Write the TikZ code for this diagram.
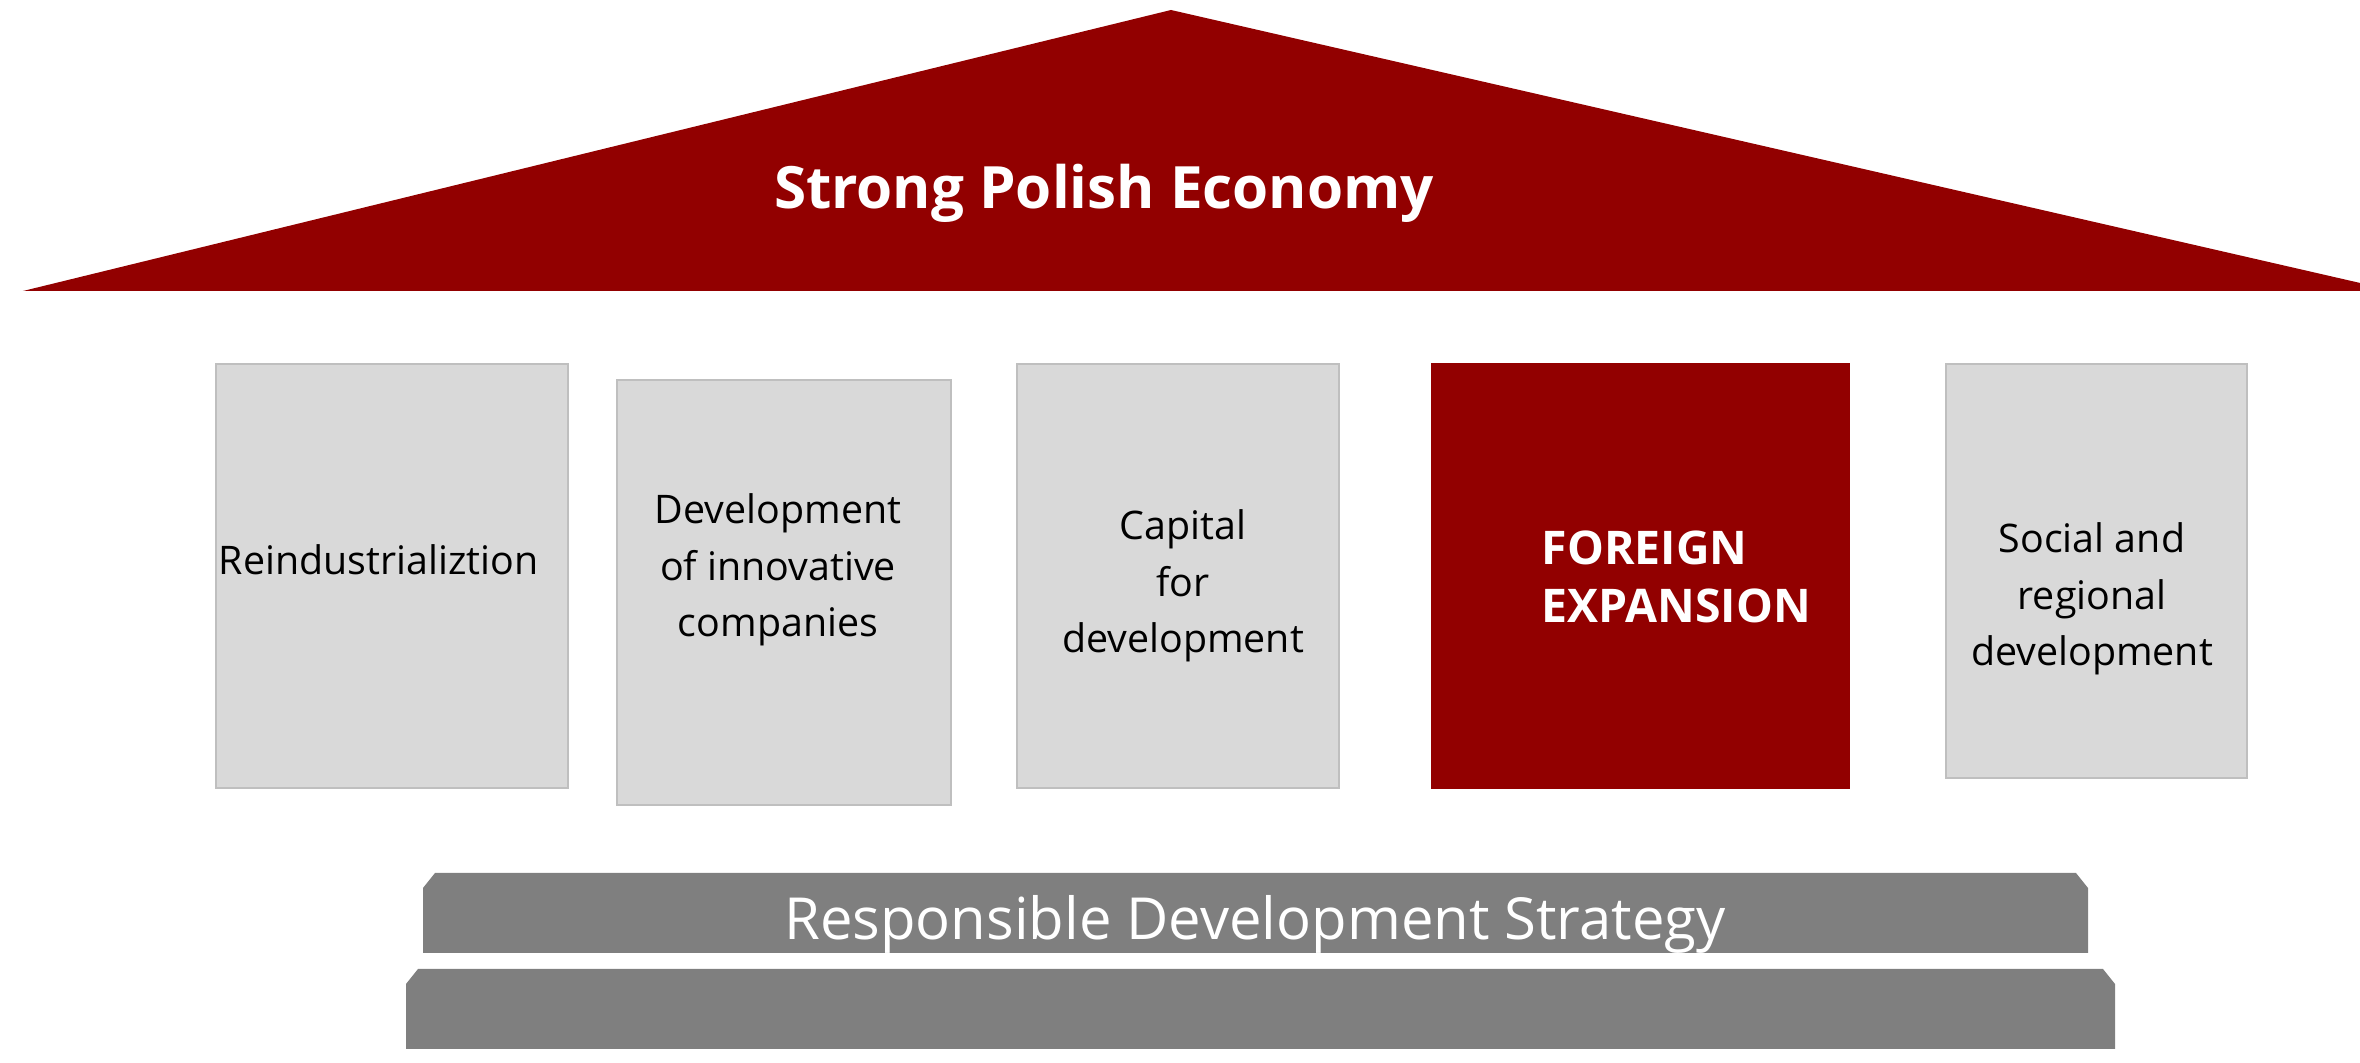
\documentclass[tikz,border=0pt]{standalone}
\usepackage{fontspec}
\setmainfont{Open Sans}
\definecolor{roofred}{HTML}{920000}
\definecolor{pillargray}{HTML}{D9D9D9}
\definecolor{pillarline}{HTML}{BFBFBF}
\definecolor{stepgray}{HTML}{7F7F7F}
\tikzset{
  pillar/.style={draw=pillarline, fill=pillargray, line width=0.6pt, inner sep=0pt, anchor=north west},
  pillartext/.style={align=center, inner sep=0pt, font=\fontsize{11.2}{16}\selectfont},
}

\begin{document}
\begin{tikzpicture}
  \useasboundingbox (0,0) rectangle (23.6,-10.63);

  \fill[roofred] (0.23,-2.91) -- (11.71,-0.10) -- (23.95,-2.91) -- cycle;
  \node[anchor=base, text=white, font=\bfseries\fontsize{16.6}{20}\selectfont] (title) at (11.04,-2.09) {Strong Polish Economy};

  \node[pillar, minimum width=3.52cm, minimum height=4.24cm] (reind) at (2.15,-3.63) {};
  \node[pillar, minimum width=3.34cm, minimum height=4.25cm] (innov) at (6.16,-3.79) {};
  \node[pillar, minimum width=3.22cm, minimum height=4.24cm] (capital) at (10.16,-3.63) {};
  \node[pillar, draw=roofred, fill=roofred, minimum width=4.17cm, minimum height=4.24cm] (foreign) at (14.31,-3.63) {};
  \node[pillar, minimum width=3.01cm, minimum height=4.14cm] (social) at (19.45,-3.63) {};

  \node[pillartext, anchor=west] (reindtext) at (2.18,-5.60) {Reindustrializtion};
  \node[pillartext] (innovtext) at (7.78,-5.70) {Development\\of innovative\\companies};
  \node[pillartext] (capitaltext) at (11.83,-5.86) {Capital\\for\\development};
  \node[pillartext, anchor=west, align=left, text=white, font=\bfseries\fontsize{13.2}{16.3}\selectfont] (foreigntext) at (15.41,-5.77) {FOREIGN\\EXPANSION};
  \node[pillartext] (socialtext) at (20.92,-5.99) {Social and\\regional\\development};

  \fill[stepgray] (4.23,-9.53) -- (4.23,-8.88) -- (4.35,-8.73) -- (20.76,-8.73) -- (20.88,-8.88) -- (20.88,-9.53) -- cycle;
  \fill[stepgray] (4.06,-10.49) -- (4.06,-9.84) -- (4.18,-9.69) -- (21.03,-9.69) -- (21.15,-9.84) -- (21.15,-10.49) -- cycle;
  \node[anchor=base, text=white, font=\fontsize{16.5}{20}\selectfont] (strategy) at (12.55,-9.40) {Responsible Development Strategy};
\end{tikzpicture}
\end{document}
